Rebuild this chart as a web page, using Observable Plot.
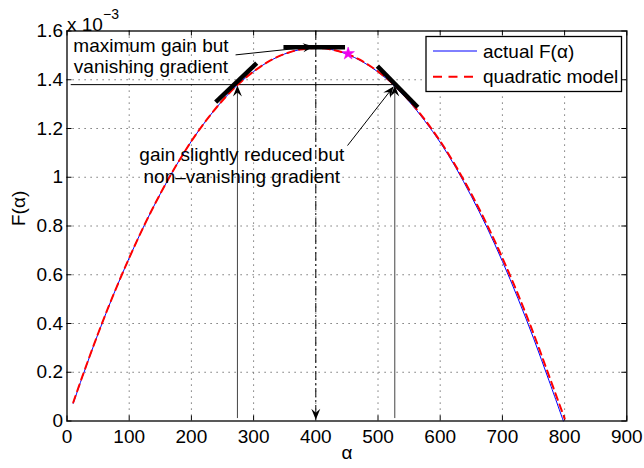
<!DOCTYPE html>
<html><head><meta charset="utf-8">
<script src="https://cdn.jsdelivr.net/npm/d3@7"></script>
<script src="https://cdn.jsdelivr.net/npm/@observablehq/plot@0.6"></script>
<style>
body{margin:0;background:#fff;}
#chart{position:absolute;left:0;top:0;}
</style>
</head><body><div id="chart"></div>
<script>
// ---- data (F in units of 10^-3) ----
const xTicks = [0,100,200,300,400,500,600,700,800,900];
const xTickLabels = ["0","100","200","300","400","500","600","700","800","900"];
const yTicks = [0,0.2,0.4,0.6,0.8,1.0,1.2,1.4,1.6];
const yTickLabels = ["0","0.2","0.4","0.6","0.8","1","1.2","1.4","1.6"];
const seriesNames = ["actual F(\u03b1)","quadratic model"];

const alphaQuad = [10,25,50,75,100,125,150,175,200,225,250,275,300,325,350,375,400,425,450,475,500,525,550,575,600,625,650,675,700,725,750,775,800];
const fQuad =     [0.076,0.185,0.359,0.520,0.669,0.807,0.932,1.046,1.148,1.237,1.315,1.381,1.434,1.476,1.506,1.524,1.530,1.524,1.506,1.476,1.434,1.381,1.315,1.237,1.148,1.046,0.932,0.807,0.669,0.520,0.359,0.185,0.010];

const alphaActual = [10,25,50,75,100,125,150,175,200,225,250,275,300,325,350,375,400,425,450,475,500,525,550,575,600,625,650,675,700,725,750,775,798];
const fActual =     [0.072,0.183,0.358,0.520,0.669,0.807,0.932,1.046,1.148,1.237,1.315,1.381,1.434,1.476,1.506,1.524,1.530,1.524,1.505,1.474,1.432,1.378,1.311,1.232,1.143,1.040,0.922,0.795,0.655,0.503,0.340,0.165,0.000];

// tangent segments (start/end)
const tanA1 = [239,348,499], tanF1 = [1.308,1.533,1.456];
const tanA2 = [305,447,564], tanF2 = [1.468,1.533,1.287];

// annotation arrows (from text to point)
const arrA1 = [271,451], arrF1 = [1.502,1.130];
const arrA2 = [397,525], arrF2 = [1.536,1.372];

// operating points
const markAlpha = [274,527];
const markF = 1.38;
const markTipF = 1.376;
const hLineAlpha = [6,527];
const optAlpha = 400;
const starAlpha = [452], starF = [1.507];

const noteTexts = ["maximum gain but\nvanishing gradient","gain slightly reduced but\nnon\u2013vanishing gradient"];
const noteAlpha = [135,281], noteF = [1.499,1.05];

// ---- layout ----
const W = 644, H = 468, ML = 66.5, MR = 17.7, MT = 30.5, MB = 47.5;
const innerW = W - ML - MR, innerH = H - MT - MB;
const FONT = "Liberation Sans, Arial, Helvetica, sans-serif";

const sx = Plot.scale({x:{domain:[0,900], range:[ML, W-MR]}});
const sy = Plot.scale({y:{domain:[0,1.6], range:[H-MB, MT]}});
function angle(a1,f1,a2,f2){
  const dx = sx.apply(a2)-sx.apply(a1), dy = sy.apply(f2)-sy.apply(f1);
  return Math.atan2(dx,-dy)*180/Math.PI;
}
const head = {draw(ctx,l){ctx.moveTo(0,-l);ctx.lineTo(-4.5,-l+11);ctx.lineTo(0,-l+7);ctx.lineTo(4.5,-l+11);ctx.closePath();}};

const quad = alphaQuad.map((a,i)=>({a, f:fQuad[i]}));
const actual = alphaActual.map((a,i)=>({a, f:fActual[i]}));
const tangents = tanA1.map((a,i)=>({a1:a, f1:tanF1[i], a2:tanA2[i], f2:tanF2[i]}));
const arrows = arrA1.map((a,i)=>({a1:a, f1:arrF1[i], a2:arrA2[i], f2:arrF2[i], r:angle(a,arrF1[i],arrA2[i],arrF2[i])}));
const notes = noteTexts.map((t,i)=>({t, a:noteAlpha[i], f:noteF[i]}));

const chart = Plot.plot({
  width: W, height: H,
  marginLeft: ML, marginRight: MR, marginTop: MT, marginBottom: MB,
  style: {fontFamily: FONT, fontSize: "19px", background: "white", color: "black"},
  x: {domain:[0,900]},
  y: {domain:[0,1.6]},
  marks: [
    Plot.gridX(xTicks.slice(1,-1), {stroke:"#555", strokeOpacity:1, strokeDasharray:"1.2,4.8", strokeWidth:1}),
    Plot.gridY(yTicks.slice(1,-1), {stroke:"#555", strokeOpacity:1, strokeDasharray:"1.2,4.8", strokeWidth:1}),
    Plot.axisX(xTicks, {tickSize:0, tickPadding:8, fontSize:19, tickFormat:(d,i)=>xTickLabels[i]}),
    Plot.axisY(yTicks, {tickSize:0, tickPadding:4, fontSize:19, tickFormat:(d,i)=>yTickLabels[i]}),
    Plot.tickX(xTicks, {x:d=>d, insetTop: innerH-5, stroke:"black"}),
    Plot.tickX(xTicks, {x:d=>d, insetBottom: innerH-5, stroke:"black"}),
    Plot.tickY(yTicks, {y:d=>d, insetRight: innerW-5, stroke:"black"}),
    Plot.tickY(yTicks, {y:d=>d, insetLeft: innerW-5, stroke:"black"}),
    // horizontal reference line
    Plot.link([hLineAlpha], {x1:d=>d[0], x2:d=>d[1], y1:markF, y2:markF, stroke:"black", strokeWidth:1}),
    // vertical arrows
    Plot.link(markAlpha, {x1:d=>d, x2:d=>d, y1:0.012, y2:markTipF-0.01, stroke:"#444", strokeWidth:1}),
    Plot.vector(markAlpha, {x:d=>d, y:markTipF, length:11, rotate:0, anchor:"end", shape:head, fill:"black", stroke:"none"}),
    // dash-dot optimum line
    Plot.link([optAlpha], {x1:d=>d, x2:d=>d, y1:1.6, y2:0.03, stroke:"black", strokeWidth:1, strokeDasharray:"9,3,2,3"}),
    Plot.vector([optAlpha], {x:d=>d, y:0.005, length:11, rotate:180, anchor:"end", shape:head, fill:"black", stroke:"none"}),
    // curves
    Plot.line(actual, {x:"a", y:"f", stroke:"#0000ff", strokeWidth:1, curve:"catmull-rom"}),
    Plot.line(quad, {x:"a", y:"f", stroke:"#ff0000", strokeWidth:2, strokeDasharray:"7,5", curve:"catmull-rom"}),
    // tangents
    Plot.link(tangents, {x1:"a1", y1:"f1", x2:"a2", y2:"f2", stroke:"black", strokeWidth:4.5, strokeLinecap:"butt"}),
    // star
    Plot.dot(starAlpha.map((a,i)=>({a, f:starF[i]})), {x:"a", y:"f", symbol:"star", r:4, fill:"#ee00ee", stroke:"#ee00ee", strokeWidth:0.5}),
    // annotation arrows
    Plot.link(arrows, {x1:"a1", y1:"f1", x2:"a2", y2:"f2", stroke:"black", strokeWidth:1}),
    Plot.vector(arrows, {x:"a2", y:"f2", length:11, rotate:"r", anchor:"end", shape:head, fill:"black", stroke:"none"}),
    // notes
    Plot.text(notes, {x:"a", y:"f", text:"t", fontSize:19, lineHeight:1.12, fill:"black", textAnchor:"middle"}),
    // frame
    Plot.frame({stroke:"black", strokeWidth:1.3}),
    // axis labels
    Plot.text(["\u03b1"], {frameAnchor:"bottom", dy:38, fontSize:19, fill:"black"}),
    Plot.text(["F(\u03b1)"], {frameAnchor:"left", rotate:-90, dx:-48, fontSize:19, fill:"black"}),
    Plot.text(["x 10"], {frameAnchor:"top-left", textAnchor:"start", dy:-14, dx:0, fontSize:19, fill:"black"}),
    Plot.text(["\u22123"], {frameAnchor:"top-left", textAnchor:"start", dy:-21.5, dx:36, fontSize:14, fill:"black"})
  ]
});
document.getElementById("chart").appendChild(chart);

// legend
const svg = d3.select(chart.tagName.toLowerCase() === "svg" ? chart : chart.querySelector("svg"));
const lg = svg.append("g").attr("font-family", FONT).attr("font-size", 19).attr("text-anchor","start");
lg.append("rect").attr("x",426).attr("y",36.5).attr("width",195.5).attr("height",55)
  .attr("fill","white").attr("stroke","black").attr("stroke-width",1.3);
const legendStyles = [{stroke:"#0000ff", w:1, dash:null},{stroke:"#ff0000", w:2, dash:"9,6.5"}];
seriesNames.forEach((name,i)=>{
  const y = 51 + i*25.7;
  const s = legendStyles[i];
  const ln = lg.append("line").attr("x1",433).attr("x2",477).attr("y1",y).attr("y2",y)
    .attr("stroke",s.stroke).attr("stroke-width",s.w);
  if (s.dash) ln.attr("stroke-dasharray", s.dash);
  lg.append("text").attr("x",483).attr("y",y).attr("dy","0.35em").attr("text-anchor","start").attr("fill","black").text(name);
});
</script>
</body></html>
